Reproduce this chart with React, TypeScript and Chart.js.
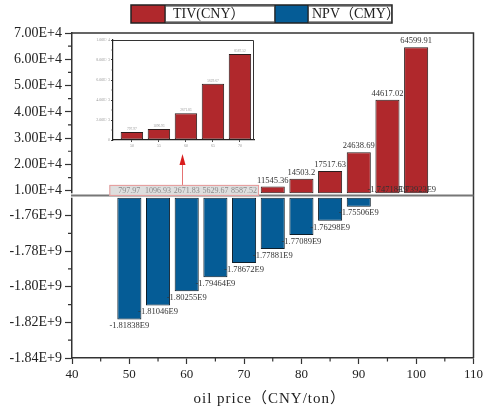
import React, { useEffect, useRef } from 'react';
import { Chart, registerables } from 'chart.js';
Chart.register(...registerables);

const PRICE = [50, 55, 60, 65, 70, 75, 80, 85, 90, 95, 100];
const TIV = [797.97, 1096.93, 2671.83, 5629.67, 8587.52, 11545.36, 14503.2, 17517.63, 24638.69, 44617.02, 64599.91];
const NPV = [-1.81838e9, -1.81046e9, -1.80255e9, -1.79464e9, -1.78672e9, -1.77881e9, -1.77089e9, -1.76298e9, -1.75506e9, -1.74718e9, -1.73923e9];

const X_TICKS = [40, 50, 60, 70, 80, 90, 100, 110];
const X_MINOR = [45, 55, 65, 75, 85, 95, 105];
const TOP_TICKS = [10000, 20000, 30000, 40000, 50000, 60000, 70000];
const TOP_MINOR = [15000, 25000, 35000, 45000, 55000, 65000];
const BOT_TICKS = [-1.84e9, -1.82e9, -1.8e9, -1.78e9, -1.76e9];
const BOT_MINOR = [-1.83e9, -1.81e9, -1.79e9, -1.77e9];
const INSET_TICKS = [0, 2000, 4000, 6000, 8000, 10000];
const INSET_MINOR = [1000, 3000, 5000, 7000, 9000];

const SERIES_NAMES = ['TIV(CNY）', 'NPV（CMY）'];
const X_TITLE = 'oil price（CNY/ton）';

const X_RANGE = [40, 110];
const TOP_RANGE = [8160, 70000];
const TOP_BASE = 9000;
const BOT_RANGE = [-1.84e9, -1.748765e9];
const BOT_BASE = -1.75e9;
const INSET_X_RANGE = [46.5, 72.6];
const INSET_Y_RANGE = [0, 10000];

const RED = '#b0282c';
const BLUE = '#055c96';
const EDGE = '#2a1c1c';
const FONT = "'Liberation Serif', 'Noto Sans CJK SC', serif";

function fmtE(v: number) {
  if (v === 0) return '0';
  const e = Math.floor(Math.log10(Math.abs(v)) + 1e-9);
  const m = v / Math.pow(10, e);
  return `${m.toFixed(2)}E+${e}`;
}
function fmtNPV(v: number) {
  return `${(v / 1e9).toFixed(5)}E9`;
}

export default function App() {
  const mainRef = useRef<HTMLCanvasElement>(null);
  const insetRef = useRef<HTMLCanvasElement>(null);

  useEffect(() => {
    const pts = PRICE.map((p, i) => ({ x: p, tiv: TIV[i], npv: NPV[i] }));
    const shownTIV = pts.filter(d => d.tiv >= TOP_BASE).map(d => ({ x: d.x, y: d.tiv }));
    const shownNPV = pts.filter(d => d.npv <= BOT_BASE).map(d => ({ x: d.x, y: d.npv }));
    const hiddenTIV = pts.filter(d => d.tiv < TOP_BASE);
    const hiddenNPV = pts.filter(d => d.npv > BOT_BASE);

    const tickFont = { family: FONT, size: 14 };

    const mainPlugin = {
      id: 'mainDecor',
      afterDraw(chart: any) {
        const ctx: CanvasRenderingContext2D = chart.ctx;
        const { left, right, top, bottom } = chart.chartArea;
        const xs = chart.scales.x, yt = chart.scales.yTop, yb = chart.scales.yBot;
        ctx.save();
        // frame
        ctx.strokeStyle = '#333';
        ctx.lineWidth = 1.5;
        ctx.beginPath();
        ctx.moveTo(left, top);
        ctx.lineTo(right, top);
        ctx.lineTo(right, bottom);
        ctx.stroke();
        // axis break
        const gTop = yt.getPixelForValue(TOP_BASE);
        const gBot = yb.getPixelForValue(BOT_BASE);
        ctx.fillStyle = '#fff';
        ctx.fillRect(left - 4, gTop, 6, gBot - gTop);
        ctx.strokeStyle = '#777';
        ctx.lineWidth = 2;
        ctx.beginPath();
        ctx.moveTo(left - 1, yt.bottom);
        ctx.lineTo(right, yt.bottom);
        ctx.stroke();
        // minor ticks
        ctx.strokeStyle = '#333';
        ctx.lineWidth = 1.2;
        ctx.beginPath();
        X_MINOR.forEach(v => { const px = xs.getPixelForValue(v); ctx.moveTo(px, bottom); ctx.lineTo(px, bottom + 3.5); });
        TOP_MINOR.forEach(v => { const py = yt.getPixelForValue(v); ctx.moveTo(left - 4, py); ctx.lineTo(left, py); });
        BOT_MINOR.forEach(v => { const py = yb.getPixelForValue(v); ctx.moveTo(left - 4, py); ctx.lineTo(left, py); });
        ctx.stroke();

        // value labels
        ctx.font = `8.5px ${FONT}`;
        ctx.fillStyle = '#333';
        ctx.textAlign = 'center';
        ctx.textBaseline = 'middle';
        shownTIV.forEach(d => {
          ctx.fillText(String(d.y), xs.getPixelForValue(d.x), yt.getPixelForValue(d.y) - 6);
        });
        shownNPV.forEach(d => {
          ctx.fillText(fmtNPV(d.y), xs.getPixelForValue(d.x), yb.getPixelForValue(d.y) + 6.5);
        });
        const rowY = yt.bottom - 4.8;
        hiddenNPV.forEach(d => {
          ctx.fillText(fmtNPV(d.npv), xs.getPixelForValue(d.x), rowY - 0.5);
        });
        // hidden TIV label box
        if (hiddenTIV.length) {
          const x0 = xs.getPixelForValue(hiddenTIV[0].x) - 20;
          const x1 = xs.getPixelForValue(hiddenTIV[hiddenTIV.length - 1].x) + 15;
          const y0 = rowY - 5.8, y1 = rowY + 5.2;
          ctx.fillStyle = '#dedede';
          ctx.fillRect(x0, y0, x1 - x0, y1 - y0);
          ctx.strokeStyle = '#e79a9a';
          ctx.lineWidth = 1;
          ctx.strokeRect(x0 + 0.5, y0 + 0.5, x1 - x0 - 1, y1 - y0 - 1);
          ctx.fillStyle = '#8a8a8a';
          ctx.font = `8px ${FONT}`;
          hiddenTIV.forEach(d => ctx.fillText(String(d.tiv), xs.getPixelForValue(d.x), rowY));
          // arrow to inset
          const mid = hiddenTIV[Math.floor(hiddenTIV.length / 2)];
          const ax = Math.round(xs.getPixelForValue(mid.x) - 4.5) + 0.5;
          ctx.strokeStyle = '#e57373';
          ctx.lineWidth = 1;
          ctx.beginPath();
          ctx.moveTo(ax, y0);
          ctx.lineTo(ax, y0 - 22);
          ctx.stroke();
          ctx.fillStyle = '#d91c1c';
          ctx.beginPath();
          ctx.moveTo(ax, y0 - 31);
          ctx.lineTo(ax - 3, y0 - 20);
          ctx.lineTo(ax + 3, y0 - 20);
          ctx.closePath();
          ctx.fill();
        }

        // x title
        ctx.fillStyle = '#222';
        ctx.font = `15px ${FONT}`;
        (ctx as any).letterSpacing = '1px';
        ctx.textBaseline = 'middle';
        ctx.fillText(X_TITLE, (left + right) / 2 - 3, 399);
        (ctx as any).letterSpacing = '0px';

        // legend
        const lx = 131, ly = 5, lw = 261, lh = 18;
        const cells = [lx, 165, 275, 308, lx + lw];
        ctx.fillStyle = RED;
        ctx.fillRect(cells[0], ly, cells[1] - cells[0], lh);
        ctx.fillStyle = BLUE;
        ctx.fillRect(cells[2], ly, cells[3] - cells[2], lh);
        ctx.strokeStyle = '#999';
        ctx.lineWidth = 1;
        ctx.strokeRect(cells[1] + 0.5, ly + 1.5, cells[2] - cells[1] - 1, lh - 3);
        ctx.strokeRect(cells[3] + 0.5, ly + 1.5, cells[4] - cells[3] - 1, lh - 3);
        ctx.strokeStyle = '#222';
        ctx.lineWidth = 1.5;
        ctx.strokeRect(lx, ly, lw, lh);
        ctx.lineWidth = 1.2;
        ctx.beginPath();
        [cells[1], cells[2], cells[3]].forEach(cx => { ctx.moveTo(cx, ly); ctx.lineTo(cx, ly + lh); });
        ctx.stroke();
        ctx.fillStyle = '#222';
        ctx.font = `14px ${FONT}`;
        ctx.textAlign = 'left';
        ctx.fillText(SERIES_NAMES[0], cells[1] + 8, ly + lh / 2 + 0.5);
        ctx.fillText(SERIES_NAMES[1], cells[3] + 4, ly + lh / 2 + 0.5);
        ctx.restore();
      },
    };

    const yCommon = (ticks: number[]) => ({
      type: 'linear' as const,
      position: 'left' as const,
      stack: 'v',
      stackWeight: 1,
      afterBuildTicks: (s: any) => { s.ticks = ticks.map(v => ({ value: v })); },
      afterFit: (s: any) => { s.width = 72; },
      grid: { drawOnChartArea: false, tickLength: 7, tickColor: '#333', tickWidth: 1.2 },
      border: { color: '#333', width: 1.5 },
      ticks: { font: tickFont, color: '#222', padding: 3, callback: (v: any) => fmtE(Number(v)), autoSkip: false },
    });

    const main = new Chart(mainRef.current!, {
      type: 'bar',
      data: {
        datasets: [
          { label: SERIES_NAMES[0], data: shownTIV as any, yAxisID: 'yTop', backgroundColor: RED, borderColor: EDGE, borderWidth: 1, borderSkipped: false, base: TOP_BASE, grouped: false, barPercentage: 0.84, categoryPercentage: 1 } as any,
          { label: SERIES_NAMES[1], data: shownNPV as any, yAxisID: 'yBot', backgroundColor: BLUE, borderColor: '#0e1e2a', borderWidth: 1, borderSkipped: false, base: BOT_BASE, grouped: false, barPercentage: 0.84, categoryPercentage: 1 } as any,
        ],
      },
      options: {
        responsive: false,
        animation: false,
        devicePixelRatio: 1,
        events: [],
        layout: { padding: { top: 33, right: 12, left: 0, bottom: 0 } },
        plugins: { legend: { display: false }, tooltip: { enabled: false } },
        scales: {
          x: {
            type: 'linear',
            min: X_RANGE[0],
            max: X_RANGE[1],
            offset: false,
            afterBuildTicks: (s: any) => { s.ticks = X_TICKS.map(v => ({ value: v })); },
            afterFit: (s: any) => { s.height = 53; },
            grid: { drawOnChartArea: false, offset: false, tickLength: 6, tickColor: '#333', tickWidth: 1.2 },
            border: { color: '#333', width: 1.5 },
            ticks: { font: { family: FONT, size: 13 }, color: '#222', padding: 3, autoSkip: false, maxRotation: 0, callback: (v: any) => String(v) },
          },
          yBot: { ...yCommon(BOT_TICKS), min: BOT_RANGE[0], max: BOT_RANGE[1], weight: 1 },
          yTop: { ...yCommon(TOP_TICKS), min: TOP_RANGE[0], max: TOP_RANGE[1], weight: 2 },
        } as any,
      },
      plugins: [mainPlugin],
    });

    const insetData = hiddenTIV.map(d => ({ x: d.x, y: d.tiv }));
    const insetPlugin = {
      id: 'insetDecor',
      afterDraw(chart: any) {
        const ctx: CanvasRenderingContext2D = chart.ctx;
        const { left, right, top, bottom } = chart.chartArea;
        const xs = chart.scales.x, ys = chart.scales.y;
        ctx.save();
        ctx.strokeStyle = '#333';
        ctx.lineWidth = 1;
        ctx.beginPath();
        ctx.moveTo(left, top + 0.5);
        ctx.lineTo(right - 0.5, top + 0.5);
        ctx.lineTo(right - 0.5, bottom);
        ctx.stroke();
        ctx.beginPath();
        INSET_MINOR.forEach(v => { const py = ys.getPixelForValue(v); ctx.moveTo(left - 1.5, py); ctx.lineTo(left, py); });
        ctx.stroke();
        ctx.font = `3.5px ${FONT}`;
        ctx.fillStyle = '#999';
        ctx.textAlign = 'center';
        ctx.textBaseline = 'middle';
        insetData.forEach(d => ctx.fillText(String(d.y), xs.getPixelForValue(d.x), ys.getPixelForValue(d.y) - 3));
        ctx.restore();
      },
    };

    const inset = new Chart(insetRef.current!, {
      type: 'bar',
      data: {
        datasets: [
          { data: insetData as any, backgroundColor: RED, borderColor: EDGE, borderWidth: 1, borderSkipped: false, barPercentage: 0.83, categoryPercentage: 1 } as any,
        ],
      },
      options: {
        responsive: false,
        animation: false,
        devicePixelRatio: 1,
        events: [],
        layout: { padding: { top: 6, right: 6, left: 0, bottom: 0 } },
        plugins: { legend: { display: false }, tooltip: { enabled: false } },
        scales: {
          x: {
            type: 'linear',
            min: INSET_X_RANGE[0],
            max: INSET_X_RANGE[1],
            offset: false,
            afterBuildTicks: (s: any) => { s.ticks = insetData.map(d => ({ value: d.x })); },
            afterFit: (s: any) => { s.height = 12; },
            grid: { drawOnChartArea: false, offset: false, tickLength: 2, tickColor: '#444' },
            border: { color: '#222', width: 1.2 },
            ticks: { font: { family: FONT, size: 4 }, color: '#999', padding: 2, autoSkip: false, maxRotation: 0, callback: (v: any) => String(v) },
          },
          y: {
            type: 'linear',
            min: INSET_Y_RANGE[0],
            max: INSET_Y_RANGE[1],
            afterBuildTicks: (s: any) => { s.ticks = INSET_TICKS.map(v => ({ value: v })); },
            afterFit: (s: any) => { s.width = 25; },
            grid: { drawOnChartArea: false, tickLength: 2, tickColor: '#444' },
            border: { color: '#222', width: 1.2 },
            ticks: { font: { family: FONT, size: 4 }, color: '#999', padding: 1, autoSkip: false, callback: (v: any) => fmtE(Number(v)) },
          },
        } as any,
      },
      plugins: [insetPlugin],
    });

    return () => { main.destroy(); inset.destroy(); };
  }, []);

  return (
    <div style={{ position: 'fixed', left: 0, top: 0, width: 486, height: 411, background: '#fff', overflow: 'hidden' }}>
      <canvas ref={mainRef} width={486} height={411} style={{ position: 'absolute', left: 0, top: 0 }} />
      <canvas ref={insetRef} width={172} height={118} style={{ position: 'absolute', left: 88, top: 34 }} />
    </div>
  );
}
